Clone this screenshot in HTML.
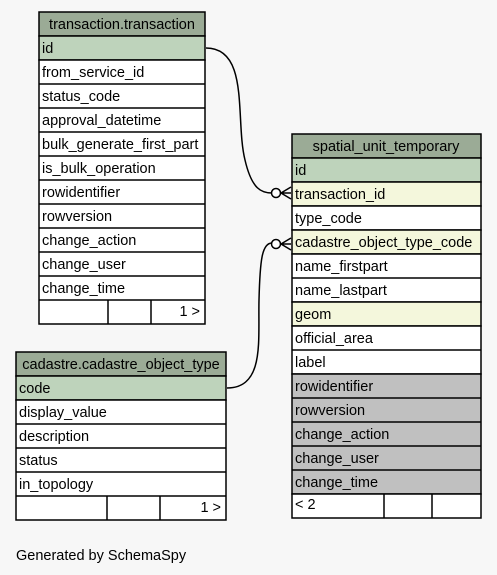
<!DOCTYPE html>
<html><head><style>html,body{margin:0;padding:0;background:#f7f7f7}svg{display:block}text{font-family:"Liberation Sans",Arial,sans-serif;font-size:14.5px;fill:#000}</style></head><body>
<svg width="497" height="575" xmlns="http://www.w3.org/2000/svg">
<rect width="497" height="575" fill="#f7f7f7"/>
<g stroke="#000" stroke-width="1.5" fill="none">
<path d="M206,48 C250,48 235,120 245,160 C252,190 262,193 272,193"/>
<path d="M227,388 C265,388 258,340 259,300 C260,260 262,243 272,243"/>
</g>
<g stroke="#000" stroke-width="1.5" fill="#fff">
<circle cx="276" cy="193" r="4.5"/>
<circle cx="276" cy="244" r="4.5"/>
</g>
<g stroke="#000" stroke-width="1.5" fill="none">
<path d="M291,187 L281,193 L291,199 M281,193 L291,193"/>
<path d="M291,238 L281,244 L291,250 M281,244 L291,244"/>
</g>

<g stroke="#000" stroke-width="1.5">
<rect x="39" y="12" width="166" height="24" fill="#9bab96"/>
<rect x="39" y="36" width="166" height="24" fill="#bed3bb"/>
<rect x="39" y="60" width="166" height="264" fill="#fff"/>
<path d="M39,84H205M39,108H205M39,132H205M39,156H205M39,180H205M39,204H205M39,228H205M39,252H205M39,276H205M39,300H205M108,300V324M151,300V324" fill="none"/>
</g>
<text x="122" y="29" text-anchor="middle">transaction.transaction</text>
<text x="42" y="53">id</text><text x="42" y="77">from_service_id</text><text x="42" y="101">status_code</text><text x="42" y="125">approval_datetime</text><text x="42" y="149">bulk_generate_first_part</text><text x="42" y="173">is_bulk_operation</text><text x="42" y="197">rowidentifier</text><text x="42" y="221">rowversion</text><text x="42" y="245">change_action</text><text x="42" y="269">change_user</text><text x="42" y="293">change_time</text>
<text x="200" y="316" text-anchor="end">1 &gt;</text>

<g stroke="#000" stroke-width="1.5">
<rect x="292" y="134" width="189" height="24" fill="#9bab96"/>
<rect x="292" y="158" width="189" height="24" fill="#bed3bb"/>
<rect x="292" y="182" width="189" height="24" fill="#f4f7dc"/>
<rect x="292" y="206" width="189" height="24" fill="#fff"/>
<rect x="292" y="230" width="189" height="24" fill="#f4f7dc"/>
<rect x="292" y="254" width="189" height="48" fill="#fff"/>
<rect x="292" y="302" width="189" height="24" fill="#f4f7dc"/>
<rect x="292" y="326" width="189" height="48" fill="#fff"/>
<rect x="292" y="374" width="189" height="120" fill="#c0c0c0"/>
<rect x="292" y="494" width="189" height="24" fill="#fff"/>
<path d="M292,278H481M292,350H481M292,398H481M292,422H481M292,446H481M292,470H481M384,494V518M432,494V518" fill="none"/>
</g>
<text x="386" y="151" text-anchor="middle">spatial_unit_temporary</text>
<text x="295" y="175">id</text><text x="295" y="199">transaction_id</text><text x="295" y="223">type_code</text><text x="295" y="247">cadastre_object_type_code</text><text x="295" y="271">name_firstpart</text><text x="295" y="295">name_lastpart</text><text x="295" y="319">geom</text><text x="295" y="343">official_area</text><text x="295" y="367">label</text><text x="295" y="391">rowidentifier</text><text x="295" y="415">rowversion</text><text x="295" y="439">change_action</text><text x="295" y="463">change_user</text><text x="295" y="487">change_time</text>
<text x="295" y="509">&lt; 2</text>

<g stroke="#000" stroke-width="1.5">
<rect x="16" y="352" width="210" height="24" fill="#9bab96"/>
<rect x="16" y="376" width="210" height="24" fill="#bed3bb"/>
<rect x="16" y="400" width="210" height="120" fill="#fff"/>
<path d="M16,424H226M16,448H226M16,472H226M16,496H226M107,496V520M160,496V520" fill="none"/>
</g>
<text x="121" y="369" text-anchor="middle">cadastre.cadastre_object_type</text>
<text x="19" y="393">code</text><text x="19" y="417">display_value</text><text x="19" y="441">description</text><text x="19" y="465">status</text><text x="19" y="489">in_topology</text>
<text x="221" y="512" text-anchor="end">1 &gt;</text>

<text x="16" y="560">Generated by SchemaSpy</text>
</svg>
</body></html>
